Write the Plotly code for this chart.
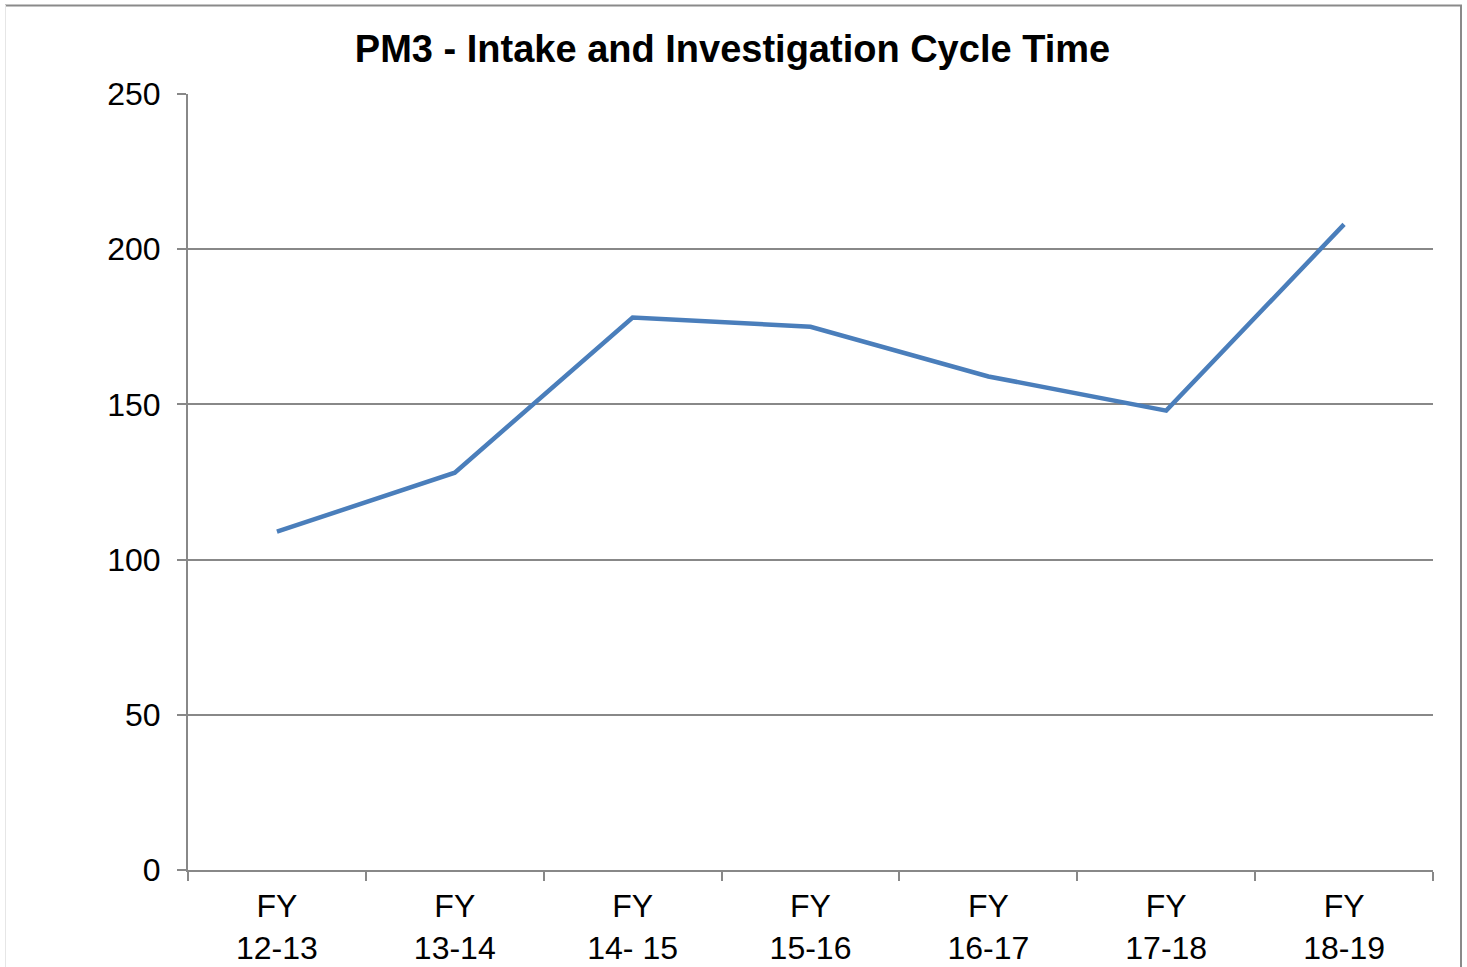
import plotly.graph_objects as go

categories = ["FY<br>12-13", "FY<br>13-14", "FY<br>14- 15", "FY<br>15-16", "FY<br>16-17", "FY<br>17-18", "FY<br>18-19"]
values = [109, 128, 178, 175, 159, 148, 208]
y_ticks = [0, 50, 100, 150, 200, 250]

W, H = 1467, 967
L, R, T, B = 188, 1433, 94, 870
pw, ph = R - L, B - T

def px(x):
    return (x - L) / pw

def py(y):
    return (B - y) / ph

fig = go.Figure()
fig.add_trace(go.Scatter(
    x=categories, y=values, mode="lines",
    line=dict(color="#4a7ebb", width=4.5),
    hoverinfo="x+y",
))

grid = "#888888"
fig.update_layout(
    width=W, height=H,
    margin=dict(l=L, r=W - R, t=T, b=H - B, autoexpand=False),
    paper_bgcolor="white", plot_bgcolor="white",
    showlegend=False,
    title=dict(text="<b>PM3 - Intake and Investigation Cycle Time</b>",
               x=(352 + 1113) / 2 / W, xanchor="center",
               y=1 - 49 / H, yanchor="middle",
               font=dict(family="Liberation Sans, Arial", size=38, color="black")),
    font=dict(family="Liberation Sans, Arial", size=32, color="black"),
    xaxis=dict(
        type="category", range=[-0.5, 6.5], tickson="boundaries", ticks="outside", ticklen=9,
        tickcolor=grid, tickwidth=2, showline=True, linecolor=grid, linewidth=2,
        showgrid=False, tickfont=dict(size=32), ticklabelstandoff=7,
        fixedrange=True, automargin=False,
    ),
    yaxis=dict(
        range=[0, 250], tickvals=y_ticks, ticks="outside", ticklen=9,
        tickcolor=grid, tickwidth=2, showline=True, linecolor=grid, linewidth=2,
        showgrid=True, gridcolor=grid, gridwidth=2, zeroline=False,
        tickfont=dict(size=32), ticklabelstandoff=10, fixedrange=True, automargin=False,
    ),
)

# outer chart border (top, right, left)
fig.add_shape(type="line", xref="paper", yref="paper",
              x0=px(5), x1=px(1462), y0=py(5.5), y1=py(5.5),
              line=dict(color="#8a8a8a", width=2))
fig.add_shape(type="line", xref="paper", yref="paper",
              x0=px(1461), x1=px(1461), y0=py(5), y1=py(967),
              line=dict(color="#8a8a8a", width=2))
fig.add_shape(type="line", xref="paper", yref="paper",
              x0=px(5.5), x1=px(5.5), y0=py(5), y1=py(967),
              line=dict(color="#e6e6e6", width=1))

fig.write_html(
    "out.html",
    config={"displayModeBar": False},
    post_script="document.body.style.margin='0';document.body.style.overflow='hidden';",
)
